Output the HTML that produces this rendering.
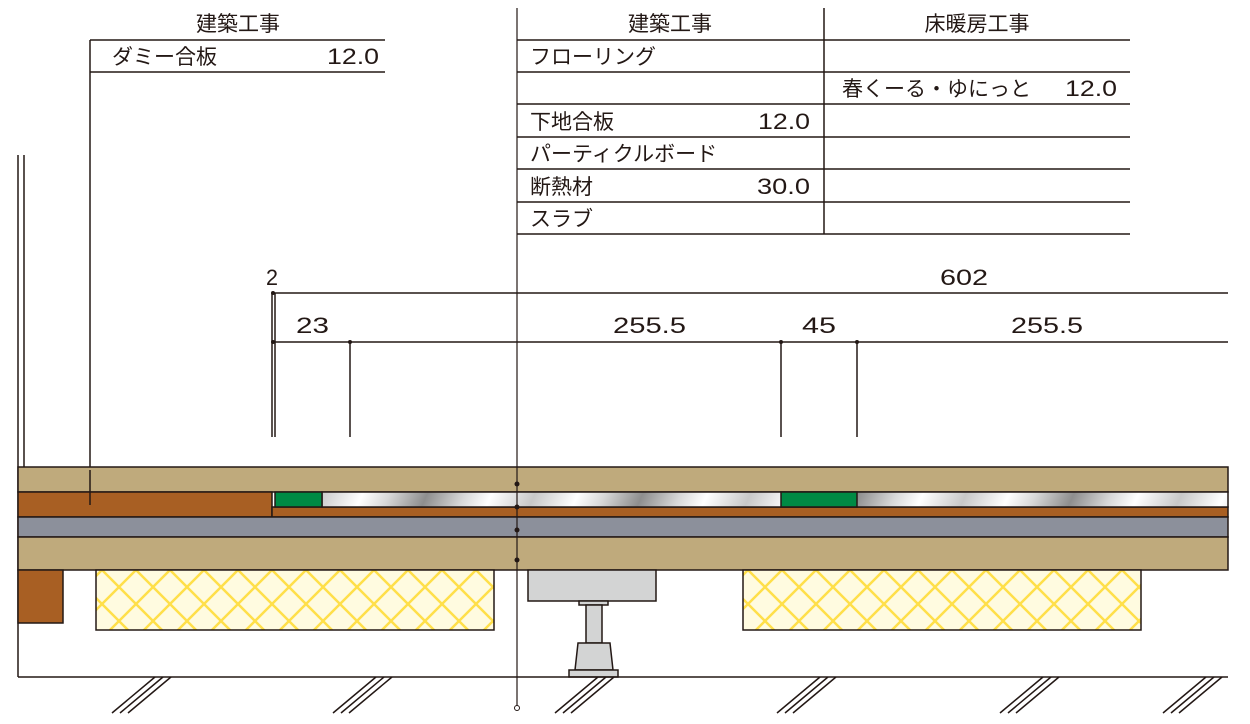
<!DOCTYPE html>
<html><head><meta charset="utf-8"><style>
html,body{margin:0;padding:0;background:#fff;}
svg{display:block;}
text{font-family:"Liberation Sans","Noto Sans CJK JP",sans-serif;font-size:21px;fill:#231815;}
text.n{font-size:22px;}
</style></head><body>
<svg width="1250" height="724" viewBox="0 0 1250 724" xmlns="http://www.w3.org/2000/svg">
<defs>
<linearGradient id="sil" x1="0" y1="0" x2="90" y2="40" gradientUnits="userSpaceOnUse" spreadMethod="reflect">
<stop offset="0" stop-color="#8e8e8e"/><stop offset="0.35" stop-color="#d8d8d8"/><stop offset="0.6" stop-color="#ffffff"/><stop offset="1" stop-color="#c8c8c8"/>
</linearGradient>
<pattern id="hat" x="0" y="570" width="34" height="34" patternUnits="userSpaceOnUse">
<rect width="34" height="34" fill="#fffbe0"/>
<path d="M0 0L34 34M34 0L0 34" stroke="#ffdf4a" stroke-width="2.5"/>
</pattern>
</defs>
<g stroke="#231815" stroke-width="1.5" fill="none">
<line x1="90" y1="40" x2="385" y2="40"/>
<line x1="90" y1="72" x2="385" y2="72"/>
<line x1="90" y1="40" x2="90" y2="505"/>
<line x1="824" y1="8" x2="824" y2="234"/>
<line x1="517" y1="40" x2="1130" y2="40"/>
<line x1="517" y1="72" x2="1130" y2="72"/>
<line x1="517" y1="104" x2="1130" y2="104"/>
<line x1="517" y1="137" x2="1130" y2="137"/>
<line x1="517" y1="169" x2="1130" y2="169"/>
<line x1="517" y1="202" x2="1130" y2="202"/>
<line x1="517" y1="234" x2="1130" y2="234"/>
<line x1="272" y1="293" x2="1228" y2="293"/>
<line x1="272" y1="342" x2="1228" y2="342"/>
<line x1="272" y1="293" x2="272" y2="437"/>
<line x1="275" y1="293" x2="275" y2="437"/>
<line x1="350" y1="342" x2="350" y2="437"/>
<line x1="781" y1="342" x2="781" y2="437"/>
<line x1="857" y1="342" x2="857" y2="437"/>
<line x1="18" y1="155" x2="18" y2="677"/>
<line x1="24" y1="155" x2="24" y2="467"/>
</g>
<g fill="#231815"><circle cx="273" cy="342" r="2"/><circle cx="350" cy="342" r="2"/><circle cx="781" cy="342" r="2"/><circle cx="857" cy="342" r="2"/><circle cx="273" cy="293" r="2"/></g>
<g stroke="#231815" stroke-width="1.5">
<rect x="18" y="467" width="1210" height="25" fill="#bfaa7c"/>
<rect x="18" y="492" width="254" height="25" fill="#a85f23"/>
<rect x="272" y="507" width="956" height="10" fill="#a85f23"/>
<rect x="322" y="492" width="906" height="15" fill="url(#sil)"/>
<rect x="275" y="492" width="47" height="15" fill="#008a44"/>
<rect x="781" y="492" width="76" height="15" fill="#008a44"/>
<rect x="18" y="517" width="1210" height="20" fill="#8c909b"/>
<rect x="18" y="537" width="1210" height="33" fill="#bfaa7c"/>
<rect x="18" y="570" width="45" height="53" fill="#a85f23"/>
<rect x="96" y="570" width="398" height="60" fill="url(#hat)"/>
<rect x="743" y="570" width="398" height="60" fill="url(#hat)"/>
<rect x="528" y="570" width="128" height="31" fill="#d3d4d4"/>
<rect x="579" y="601" width="29" height="4" fill="#d3d4d4"/>
<rect x="586" y="605" width="16" height="38" fill="#d3d4d4"/>
<path d="M578 643L610 643L613 670L575 670Z" fill="#d3d4d4"/>
<rect x="569" y="670" width="49" height="7" fill="#d3d4d4"/>
</g>
<line x1="90" y1="470" x2="90" y2="505" stroke="#231815" stroke-width="1.5"/>
<line x1="18" y1="677" x2="1228" y2="677" stroke="#231815" stroke-width="1.5"/>
<line x1="517" y1="8" x2="517" y2="707" stroke="#231815" stroke-width="1.2"/>
<g fill="#231815"><circle cx="517" cy="484" r="2.5"/><circle cx="517" cy="507" r="2.5"/><circle cx="517" cy="530" r="2.5"/><circle cx="517" cy="560" r="2.5"/></g>
<circle cx="517" cy="708" r="2.5" fill="#fff" stroke="#231815" stroke-width="1"/>
<g stroke="#231815" stroke-width="1.5">
<path d="M112 713L155 677M120 713L163 677M128 713L171 677"/>
<path d="M333 713L376 677M341 713L384 677M349 713L392 677"/>
<path d="M555 713L598 677M563 713L606 677M571 713L614 677"/>
<path d="M777 713L820 677M785 713L828 677M793 713L836 677"/>
<path d="M1000 713L1043 677M1008 713L1051 677M1016 713L1059 677"/>
<path d="M1163 713L1206 677M1171 713L1214 677M1179 713L1222 677"/>
</g>
<text x="238" y="31" text-anchor="middle">建築工事</text>
<text x="112" y="64">ダミー合板</text>
<text class="n" x="327" y="64" textLength="52" lengthAdjust="spacingAndGlyphs">12.0</text>
<text x="670" y="31" text-anchor="middle">建築工事</text>
<text x="977" y="31" text-anchor="middle">床暖房工事</text>
<text x="530" y="64">フローリング</text>
<text x="842" y="96">春くーる・ゆにっと</text>
<text class="n" x="1065" y="96" textLength="52" lengthAdjust="spacingAndGlyphs">12.0</text>
<text x="530" y="129">下地合板</text>
<text class="n" x="758" y="129" textLength="52" lengthAdjust="spacingAndGlyphs">12.0</text>
<text x="530" y="161">パーティクルボード</text>
<text x="530" y="194">断熱材</text>
<text class="n" x="757" y="194" textLength="53" lengthAdjust="spacingAndGlyphs">30.0</text>
<text x="530" y="226">スラブ</text>
<text class="n" x="266" y="285" textLength="12" lengthAdjust="spacingAndGlyphs">2</text>
<text class="n" x="940" y="285" textLength="48" lengthAdjust="spacingAndGlyphs">602</text>
<text class="n" x="296" y="333" textLength="33" lengthAdjust="spacingAndGlyphs">23</text>
<text class="n" x="613" y="333" textLength="73" lengthAdjust="spacingAndGlyphs">255.5</text>
<text class="n" x="802" y="333" textLength="34" lengthAdjust="spacingAndGlyphs">45</text>
<text class="n" x="1011" y="333" textLength="72" lengthAdjust="spacingAndGlyphs">255.5</text>
</svg>
</body></html>
